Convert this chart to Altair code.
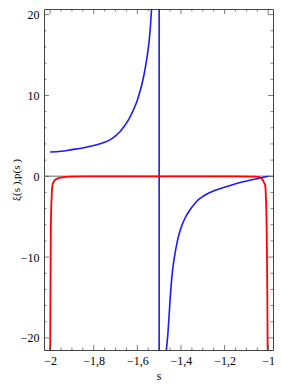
import altair as alt
import pandas as pd

# --- data ---
blue_left_s = [-2.0, -1.95, -1.9, -1.85, -1.8, -1.75, -1.72, -1.7, -1.68, -1.66,
               -1.64, -1.62, -1.6, -1.59, -1.58, -1.57, -1.56, -1.55, -1.545,
               -1.54, -1.535, -1.53]
blue_left_v = [3.0, 3.1, 3.3, 3.5, 3.8, 4.2, 4.6, 5.0, 5.5, 6.2,
               7.0, 8.1, 9.4, 10.3, 11.3, 12.5, 14.0, 15.8, 17.0,
               18.6, 20.6, 23.0]

blue_right_s = [-1.472, -1.467, -1.46, -1.455, -1.45, -1.445, -1.44, -1.43, -1.42,
                -1.41, -1.40, -1.38, -1.36, -1.34, -1.32, -1.30, -1.27, -1.24,
                -1.2, -1.16, -1.12, -1.08, -1.05, -1.02, -1.0]
blue_right_v = [-24.0, -21.6, -19.5, -17.5, -15.3, -13.5, -12.0, -10.0, -8.5,
                -7.3, -6.4, -5.1, -4.2, -3.5, -2.9, -2.5, -2.05, -1.7,
                -1.35, -1.02, -0.72, -0.47, -0.3, -0.12, 0.0]

red_s = [-2.0, -1.9985, -1.997, -1.9955, -1.9938, -1.992, -1.9893, -1.985, -1.979,
         -1.97, -1.957, -1.94, -1.913, -1.85, -1.7, -1.5, -1.3, -1.15, -1.0605,
         -1.05, -1.0387, -1.03, -1.0244, -1.019, -1.0142, -1.0115, -1.0098, -1.008,
         -1.006, -1.004, -1.002]
red_v = [-24.0, -15.0, -7.5, -4.5, -3.1, -2.0, -1.1, -0.75, -0.5,
         -0.33, -0.2, -0.12, -0.05, -0.02, -0.01, -0.01, -0.01, -0.02, -0.05,
         -0.08, -0.14, -0.28, -0.5, -0.78, -1.1, -1.9, -3.1, -5.0,
         -8.5, -15.0, -24.0]

pole = [-1.5]
zero_line = [0]

x_major = [-2.0, -1.8, -1.6, -1.4, -1.2, -1.0]
x_minor = [-1.95, -1.9, -1.85, -1.75, -1.7, -1.65, -1.55, -1.5, -1.45,
           -1.35, -1.3, -1.25, -1.15, -1.1, -1.05]
y_major = [-20, -10, 0, 10, 20]
y_minor = [-18, -16, -14, -12, -8, -6, -4, -2, 2, 4, 6, 8, 12, 14, 16, 18]

x_domain = [-2.028, -0.978]
y_domain = [-21.5, 20.7]

W, H = 229, 341
FONT = "Liberation Serif"
BLUE = "#1a1aff"
RED = "#ff0000"
FRAME = "#444444"

xs = alt.Scale(domain=x_domain, nice=False, zero=False)
ys = alt.Scale(domain=y_domain, nice=False, zero=False)

minus_expr = "replace(replace(format(datum.value, '.1~f'), '.', ','), '-', '\u2212')"

x_axis = alt.Axis(
    title="s", values=x_major, labelExpr=minus_expr,
    ticks=False, domain=False, grid=False, labelPadding=5,
    labelFont=FONT, titleFont=FONT,
    titleY=32, titleBaseline="bottom", titleFontWeight="normal")
y_axis = alt.Axis(
    title="\u03be(s ),p(s )", values=y_major, labelExpr=minus_expr,
    ticks=False, domain=False, grid=False, labelPadding=5,
    labelFont=FONT, titleFont=FONT,
    titleX=-23, titleFontSize=11, titleFontWeight="normal")

curves = pd.concat([
    pd.DataFrame({"s": blue_left_s, "v": blue_left_v, "branch": "xi_left"}),
    pd.DataFrame({"s": blue_right_s, "v": blue_right_v, "branch": "xi_right"}),
])
red_df = pd.DataFrame({"s": red_s, "v": red_v})

zero = alt.Chart(pd.DataFrame({"z": zero_line})).mark_rule(
    color="#999999", strokeWidth=1.5
).encode(y=alt.Y("z:Q", scale=ys, axis=y_axis, title="\u03be(s ),p(s )"))

blue = alt.Chart(curves).mark_line(
    color=BLUE, strokeWidth=1.6, clip=True, interpolate="monotone"
).encode(
    x=alt.X("s:Q", scale=xs, axis=x_axis, title="s"),
    y=alt.Y("v:Q", scale=ys, axis=y_axis, title="\u03be(s ),p(s )"),
    detail="branch:N",
    order="s:Q",
)

pole_rule = alt.Chart(pd.DataFrame({"p": pole})).mark_rule(
    color=BLUE, strokeWidth=1.6
).encode(x=alt.X("p:Q", scale=xs, axis=x_axis, title="s"))

red = alt.Chart(red_df).mark_line(
    color=RED, strokeWidth=1.8, clip=True, interpolate="monotone"
).encode(
    x=alt.X("s:Q", scale=xs, axis=x_axis, title="s"),
    y=alt.Y("v:Q", scale=ys, axis=y_axis, title="\u03be(s ),p(s )"),
    order="s:Q",
)

def xticks(vals, size, ypos):
    return alt.Chart(pd.DataFrame({"t": vals})).mark_tick(
        orient="vertical", size=size, thickness=1, color=FRAME, clip=True
    ).encode(x=alt.X("t:Q", scale=xs, axis=x_axis, title="s"), y=alt.value(ypos))

def yticks(vals, size, xpos):
    return alt.Chart(pd.DataFrame({"t": vals})).mark_tick(
        orient="horizontal", size=size, thickness=1, color=FRAME, clip=True
    ).encode(y=alt.Y("t:Q", scale=ys, axis=y_axis, title="\u03be(s ),p(s )"),
             x=alt.value(xpos))

ticks = [
    xticks(x_major, 10, H), xticks(x_minor, 5, H),
    xticks(x_major, 10, 0), xticks(x_minor, 5, 0),
    yticks(y_major, 10, 0), yticks(y_minor, 5, 0),
    yticks(y_major, 10, W), yticks(y_minor, 5, W),
]

chart = alt.layer(zero, blue, pole_rule, red, *ticks).properties(
    width=W, height=H,
    autosize=alt.AutoSizeParams(type="none"),
    padding={"left": 36, "top": 1, "right": 1, "bottom": 34},
).configure(
    background="white", font=FONT
).configure_view(
    stroke=FRAME, strokeWidth=1
).configure_axis(
    labelFont=FONT, labelFontSize=12, labelColor="#000000",
    titleFont=FONT, titleFontSize=12, titleColor="#000000",
)

chart.save("out.html", embed_options={"renderer": "svg", "actions": False})
